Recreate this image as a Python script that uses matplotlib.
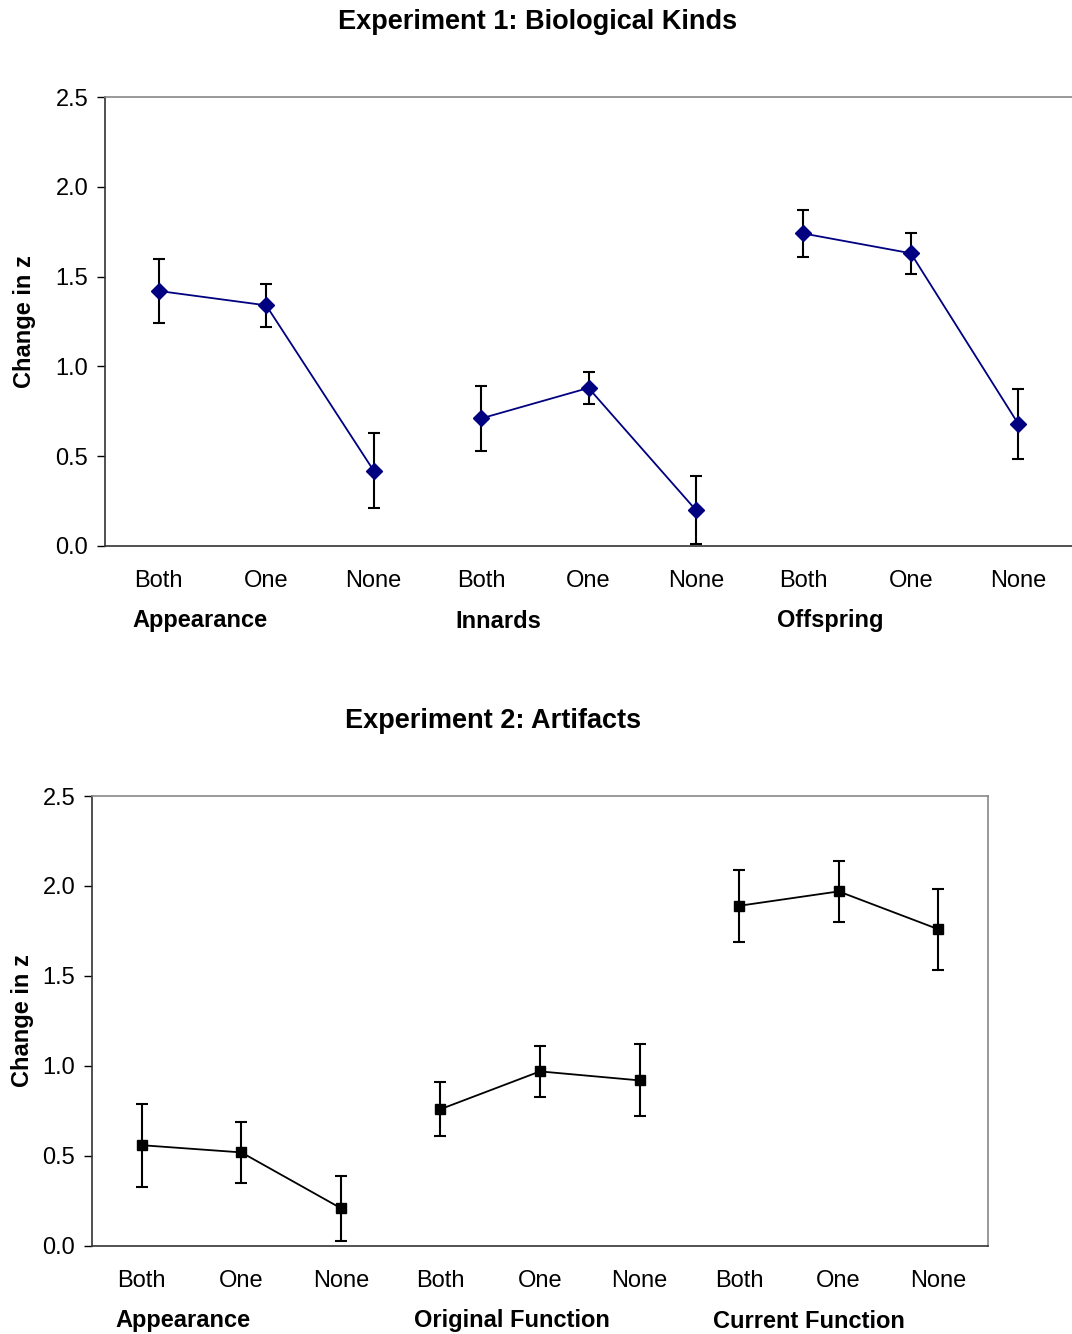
import matplotlib
matplotlib.use("Agg")
import matplotlib.pyplot as plt

plt.rcParams['font.family'] = ['Liberation Sans', 'DejaVu Sans']

levels = ["Both", "One", "None"]

# Experiment 1: Biological Kinds
exp1_groups = ["Appearance", "Innards", "Offspring"]
exp1_means = [1.42, 1.34, 0.42, 0.71, 0.88, 0.20, 1.74, 1.63, 0.68]
exp1_err = [0.18, 0.12, 0.21, 0.18, 0.09, 0.19, 0.13, 0.115, 0.195]

# Experiment 2: Artifacts
exp2_groups = ["Appearance", "Original Function", "Current Function"]
exp2_means = [0.56, 0.52, 0.21, 0.76, 0.97, 0.92, 1.89, 1.97, 1.76]
exp2_err = [0.23, 0.17, 0.18, 0.15, 0.14, 0.20, 0.20, 0.17, 0.225]

yticks = [0.0, 0.5, 1.0, 1.5, 2.0, 2.5]

W, H = 1072, 1334
fig = plt.figure(figsize=(W / 100, H / 100), dpi=100)


def draw_panel(rect, groups, means, errs, color, marker, msize, hide_right, ypad):
    ax = fig.add_axes(rect)
    n = len(means)
    xs = list(range(n))
    for g in range(len(groups)):
        sl = slice(g * 3, g * 3 + 3)
        ax.errorbar(xs[sl], means[sl], yerr=errs[sl], color=color, lw=1.3,
                    marker=marker, ms=msize, mfc=color, mec=color,
                    ecolor='black', elinewidth=1.5, capsize=4.5, capthick=1.5,
                    zorder=3)
    ax.set_xlim(-0.5, n - 0.5)
    ax.set_ylim(0, 2.5)
    ax.set_yticks(yticks)
    ax.set_yticklabels([f"{t:.1f}" for t in yticks])
    ax.set_xticks(xs)
    ax.set_xticklabels(levels * len(groups))
    ax.tick_params(axis='x', length=0, pad=17, labelsize=17)
    ax.tick_params(axis='y', length=6, width=1, pad=6, labelsize=17, direction='out')
    for s in ['left', 'bottom']:
        ax.spines[s].set_color('#333333')
        ax.spines[s].set_linewidth(1.2)
    for s in ['top', 'right']:
        ax.spines[s].set_color('#888888')
        ax.spines[s].set_linewidth(1.2)
    if hide_right:
        ax.spines['right'].set_visible(False)
    for g, name in enumerate(groups):
        ax.annotate(name, xy=(g * 3, 0), xycoords=('data', 'axes fraction'),
                    xytext=(-26, -75), textcoords='offset pixels',
                    ha='left', va='center', fontsize=17, fontweight='bold')
    ax.set_ylabel("Change in z", fontsize=17, fontweight='bold', labelpad=ypad)
    return ax


ax1 = draw_panel([105 / W, 1 - 546 / H, (1072 - 105) / W, 449 / H],
                 exp1_groups, exp1_means, exp1_err, '#000080', 'D', 8, True, 14)
ax2 = draw_panel([92 / W, 1 - 1246 / H, (988 - 92) / W, 450 / H],
                 exp2_groups, exp2_means, exp2_err, 'black', 's', 7.5, False, 6.5)

fig.text(538 / W, 1 - 22 / H, "Experiment 1: Biological Kinds", ha='center', va='center',
         fontsize=19.5, fontweight='bold')
fig.text(493 / W, 1 - 721 / H, "Experiment 2: Artifacts", ha='center', va='center',
         fontsize=19.5, fontweight='bold')

fig.savefig("out.png", dpi=100)
